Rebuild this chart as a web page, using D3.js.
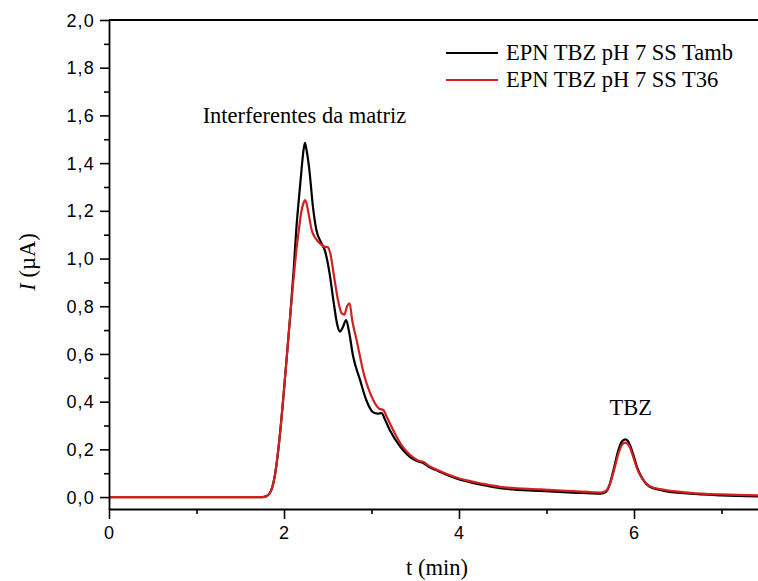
<!DOCTYPE html>
<html>
<head>
<meta charset="utf-8">
<script src="https://cdn.jsdelivr.net/npm/d3@7"></script>
<style>
  body { margin: 0; background: #fff; }
  svg { display: block; }
  .tick text { font-family: "Liberation Sans", Arial, sans-serif; font-size: 18px; letter-spacing: 1.2px; fill: #000; }
  .serif { font-family: "Liberation Serif", "Times New Roman", serif; font-size: 22.5px; fill: #000; }
</style>
</head>
<body>
<svg id="chart" width="758" height="581"></svg>
<script>
// Chronoamperometric traces: time (min) and current (µA)
const seriesNames = ["EPN TBZ pH 7 SS Tamb", "EPN TBZ pH 7 SS T36"];
const seriesColors = ["#000000", "#d21f1f"];

const tambTime = [0, 1.75, 1.80, 1.85, 1.90, 1.95, 1.99, 2.03, 2.07, 2.11, 2.14, 2.17, 2.20, 2.225, 2.24, 2.255, 2.29, 2.33, 2.37, 2.42, 2.47, 2.52, 2.57, 2.61, 2.64, 2.67, 2.71, 2.74, 2.79, 2.87, 2.94, 3.02, 3.07, 3.115, 3.16, 3.21, 3.33, 3.48, 3.54, 3.59, 3.65, 3.74, 3.97, 4.28, 4.47, 4.93, 5.30, 5.62, 5.68, 5.72, 5.77, 5.82, 5.86, 5.90, 5.93, 5.96, 5.99, 6.04, 6.10, 6.18, 6.33, 6.64, 7.00, 7.50];
const tambCurrent = [0, 0, 0.004, 0.025, 0.10, 0.25, 0.407, 0.58, 0.756, 0.95, 1.12, 1.25, 1.371, 1.46, 1.485, 1.46, 1.371, 1.22, 1.12, 1.07, 1.03, 0.94, 0.81, 0.72, 0.693, 0.71, 0.742, 0.70, 0.59, 0.49, 0.407, 0.355, 0.35, 0.352, 0.32, 0.28, 0.211, 0.158, 0.148, 0.143, 0.128, 0.113, 0.078, 0.05, 0.037, 0.026, 0.019, 0.014, 0.022, 0.05, 0.12, 0.195, 0.232, 0.242, 0.235, 0.212, 0.18, 0.12, 0.075, 0.043, 0.027, 0.014, 0.007, 0.002];

const t36Time = [0, 1.75, 1.80, 1.85, 1.90, 1.95, 1.99, 2.03, 2.07, 2.11, 2.14, 2.17, 2.195, 2.225, 2.24, 2.255, 2.28, 2.316, 2.36, 2.42, 2.46, 2.50, 2.53, 2.57, 2.62, 2.66, 2.69, 2.72, 2.75, 2.78, 2.83, 2.91, 3.02, 3.09, 3.136, 3.17, 3.21, 3.33, 3.48, 3.54, 3.59, 3.65, 3.74, 3.97, 4.28, 4.47, 4.93, 5.30, 5.62, 5.68, 5.72, 5.77, 5.82, 5.86, 5.90, 5.93, 5.96, 5.99, 6.04, 6.10, 6.18, 6.33, 6.64, 7.00, 7.50];
const t36Current = [0, 0, 0.004, 0.025, 0.10, 0.25, 0.407, 0.58, 0.756, 0.92, 1.03, 1.12, 1.19, 1.235, 1.245, 1.235, 1.19, 1.12, 1.085, 1.06, 1.05, 1.048, 1.02, 0.93, 0.82, 0.77, 0.765, 0.80, 0.812, 0.74, 0.658, 0.52, 0.407, 0.37, 0.365, 0.34, 0.309, 0.225, 0.165, 0.152, 0.148, 0.132, 0.116, 0.082, 0.055, 0.043, 0.032, 0.025, 0.019, 0.026, 0.05, 0.11, 0.18, 0.218, 0.228, 0.222, 0.202, 0.17, 0.115, 0.074, 0.045, 0.031, 0.018, 0.011, 0.007];

const xTicks = [0, 2, 4, 6];
const xMinorTicks = [1, 3, 5, 7];
const yTicks = [0, 0.2, 0.4, 0.6, 0.8, 1.0, 1.2, 1.4, 1.6, 1.8, 2.0];
const yMinorTicks = [0.1, 0.3, 0.5, 0.7, 0.9, 1.1, 1.3, 1.5, 1.7, 1.9];

const annotations = [
  { text: "Interferentes da matriz", t: 1.07, i: 1.57 },
  { text: "TBZ", t: 5.72, i: 0.345 }
];

const svg = d3.select("#chart");
const plotLeft = 109, plotTop = 20, plotBottom = 509;
const x = d3.scaleLinear().domain([0, 7.5]).range([plotLeft, plotLeft + 87.5 * 7.5]);
const y = d3.scaleLinear().domain([-0.05, 2.0]).range([plotBottom, plotTop]);

const comma = v => d3.format(".1f")(v).replace(".", ",");

// frame: top border
svg.append("line")
  .attr("x1", plotLeft).attr("x2", x.range()[1])
  .attr("y1", plotTop).attr("y2", plotTop)
  .attr("stroke", "#000").attr("stroke-width", 1.8);

// clip for traces
svg.append("clipPath").attr("id", "plotClip")
  .append("rect").attr("x", plotLeft).attr("y", plotTop)
  .attr("width", x.range()[1] - plotLeft).attr("height", plotBottom - plotTop);

const line = d3.line()
  .x(d => x(d[0])).y(d => y(d[1]))
  .curve(d3.curveMonotoneX);

const traces = [
  d3.zip(tambTime, tambCurrent),
  d3.zip(t36Time, t36Current)
];

svg.append("g").attr("clip-path", "url(#plotClip)")
  .selectAll("path").data(traces).join("path")
  .attr("d", line)
  .attr("fill", "none")
  .attr("stroke", (d, k) => seriesColors[k])
  .attr("stroke-width", 2.2)
  .attr("stroke-linejoin", "round");

// axes
const xAxis = svg.append("g").attr("transform", `translate(0,${plotBottom})`)
  .call(d3.axisBottom(x).tickValues(xTicks).tickFormat(d3.format("d")).tickSize(10).tickPadding(6).tickSizeOuter(0));
const xMinor = svg.append("g").attr("transform", `translate(0,${plotBottom})`)
  .call(d3.axisBottom(x).tickValues(xMinorTicks).tickFormat("").tickSize(5).tickSizeOuter(0));
const yAxis = svg.append("g").attr("transform", `translate(${plotLeft},0)`)
  .call(d3.axisLeft(y).tickValues(yTicks).tickFormat(comma).tickSize(9).tickPadding(5).tickSizeOuter(0));
const yMinor = svg.append("g").attr("transform", `translate(${plotLeft},0)`)
  .call(d3.axisLeft(y).tickValues(yMinorTicks).tickFormat("").tickSize(5).tickSizeOuter(0));

[xAxis, xMinor, yAxis, yMinor].forEach(g => {
  g.selectAll("path.domain").attr("stroke", "#000").attr("stroke-width", 1.8);
  g.selectAll(".tick line").attr("stroke", "#000").attr("stroke-width", 1.6);
});
xMinor.select("path.domain").remove();
yMinor.select("path.domain").remove();
yAxis.selectAll(".tick text").attr("dy", "0.34em");
xAxis.selectAll(".tick text").attr("dy", "0.8em");

// axis titles
svg.append("text").attr("class", "serif")
  .attr("x", 437).attr("y", 575).attr("text-anchor", "middle")
  .text("t (min)");

const yTitle = svg.append("text").attr("class", "serif")
  .attr("transform", "translate(35,262) rotate(-90)")
  .attr("text-anchor", "middle");
yTitle.append("tspan").attr("font-style", "italic").text("I");
yTitle.append("tspan").text(" (µA)");

// peak annotations
svg.selectAll("text.note").data(annotations).join("text")
  .attr("class", "serif note")
  .attr("x", d => x(d.t)).attr("y", d => y(d.i))
  .text(d => d.text);

// legend
const legend = svg.append("g").selectAll("g").data(seriesNames).join("g")
  .attr("transform", (d, k) => `translate(446,${53 + k * 27})`);
legend.append("line")
  .attr("x1", 0).attr("x2", 52)
  .attr("stroke", (d, k) => seriesColors[k]).attr("stroke-width", 2.2);
legend.append("text").attr("class", "serif")
  .attr("x", 60).attr("y", 7)
  .text(d => d);
</script>
</body>
</html>
